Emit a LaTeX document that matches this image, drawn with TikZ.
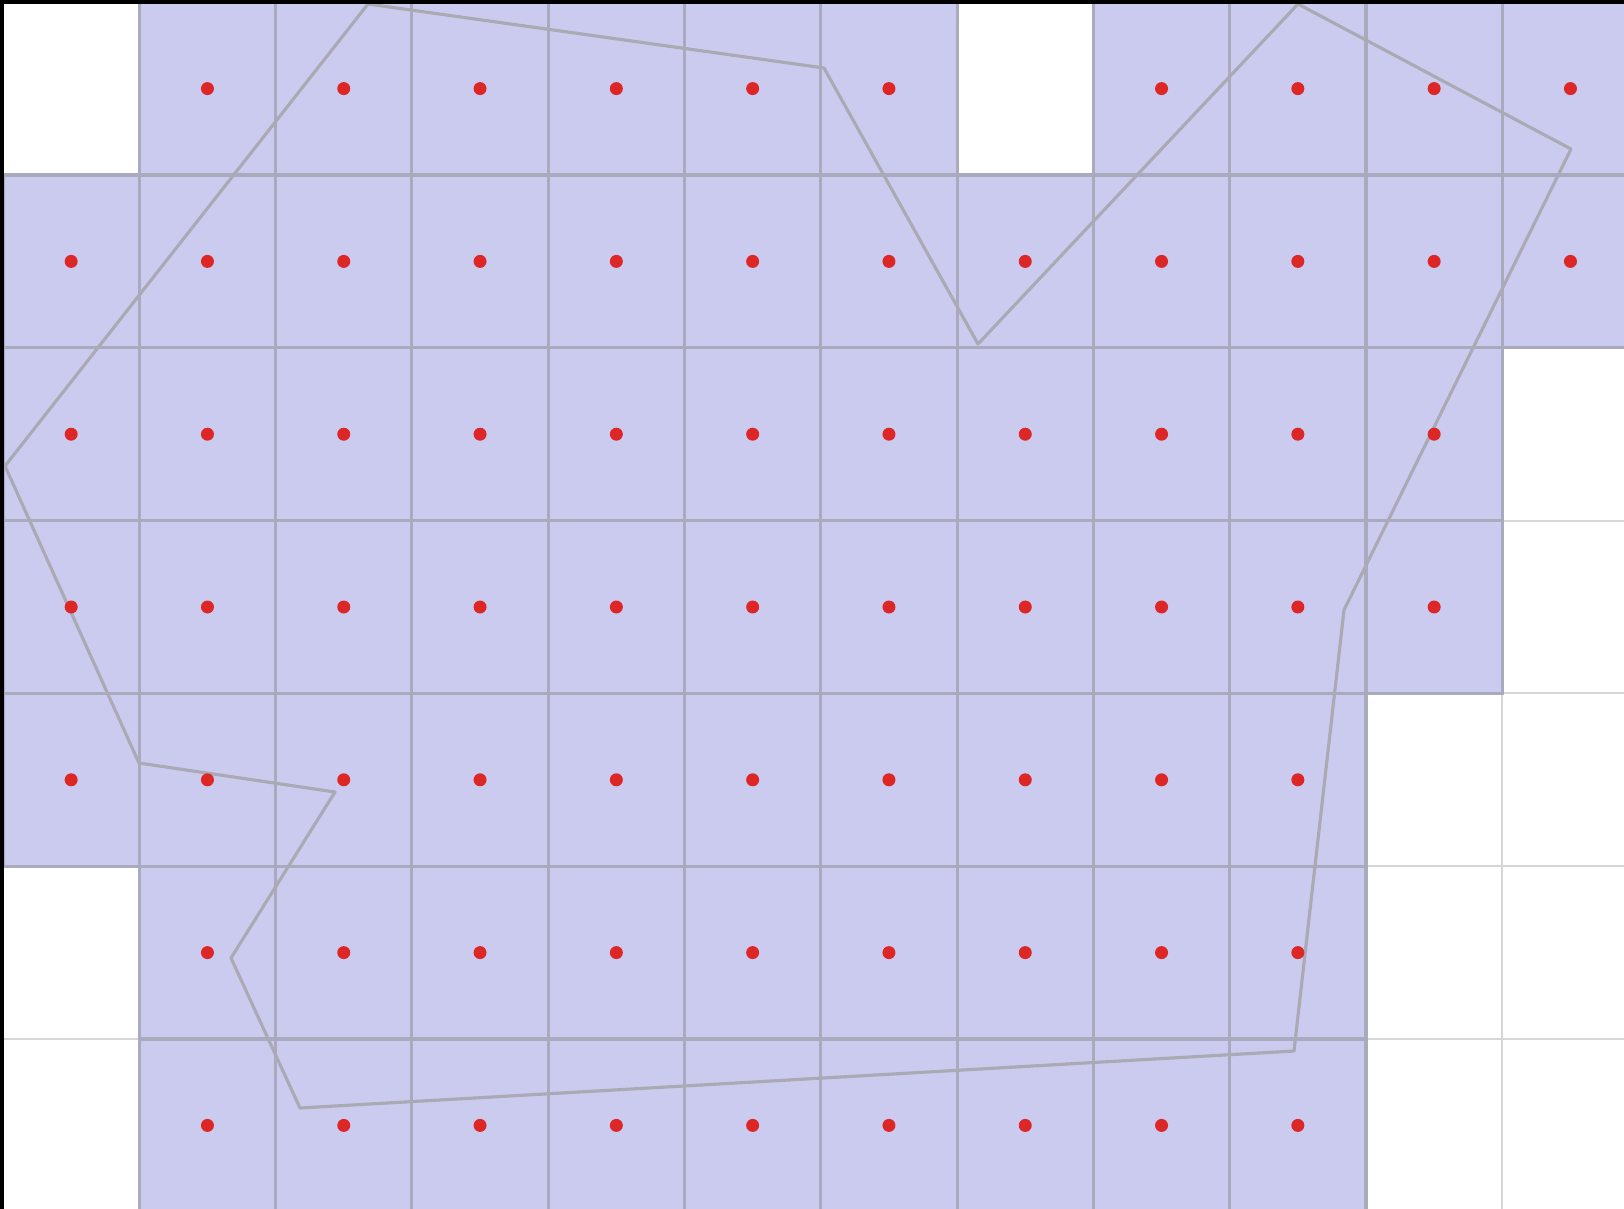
\documentclass[tikz,border=0pt]{standalone}
\usepackage{tikz}

\definecolor{cellfill}{RGB}{203,203,240}
\definecolor{cellline}{RGB}{170,170,190}
\definecolor{gridlight}{RGB}{214,214,214}
\definecolor{polyline}{RGB}{170,170,180}
\definecolor{dotred}{RGB}{221,38,38}

\begin{document}
\begin{tikzpicture}[
    x=0.01cm, y=-0.01cm,
    dot/.style={circle, fill=dotred, inner sep=0pt, minimum size=0.13cm},
    cell/.style={fill=cellfill, draw=cellline, line width=0.9pt},
    faint/.style={draw=gridlight, line width=0.6pt},
    outline/.style={draw=polyline, line width=0.9pt, line join=round},
    frame/.style={draw=black, line width=0.035cm}
]
    % 画布 1624 x 1209
    \useasboundingbox (0,0) rectangle (1624,1209);
    \clip (0,0) rectangle (1624,1209);
    \fill[white] (0,0) rectangle (1624,1209);
    \def\cw{136.3}
    \def\ch{172.8}
    % 每行被覆盖的格子
    \def\cellrows{0/{1,2,3,4,5,6,8,9,10,11}, 1/{0,...,11}, 2/{0,...,10},
        3/{0,...,10}, 4/{0,...,9}, 5/{1,...,9}, 6/{1,...,9}}

    % 浅色网格
    \foreach \c in {1,...,11}
        \draw[faint] (3+\c*\cw, 0) -- (3+\c*\cw, 1209);
    \foreach \r in {1,...,6}
        \draw[faint] (0, 2.2+\r*\ch) -- (1624, 2.2+\r*\ch);

    % 填充格子
    \foreach \r/\cols in \cellrows
        \foreach \c in \cols
            \draw[cell] (3+\c*\cw, 2.2+\r*\ch) rectangle ++(\cw, \ch);

    % 多边形顶点
    \coordinate (p1) at (368, 4);
    \coordinate (p2) at (824, 68);
    \coordinate (p3) at (978, 344);
    \coordinate (p4) at (1298, 4);
    \coordinate (p5) at (1571, 149);
    \coordinate (p6) at (1344, 610);
    \coordinate (p7) at (1294, 1051);
    \coordinate (p8) at (300, 1108);
    \coordinate (p9) at (231, 958);
    \coordinate (p10) at (335, 792);
    \coordinate (p11) at (139, 763);
    \coordinate (p12) at (5, 466);

    % 多边形
    \draw[outline] (p1) -- (p2) -- (p3) -- (p4) -- (p5) -- (p6) -- (p7)
        -- (p8) -- (p9) -- (p10) -- (p11) -- (p12) -- cycle;

    % 格子中心的红点
    \foreach \r/\cols in \cellrows
        \foreach \c in \cols
            \node[dot] (d\r-\c) at (3+\c*\cw+\cw/2, 2.2+\r*\ch+\ch/2) {};

    % 上边与左边的黑框
    \draw[frame] (1624, 1.8) -- (2.2, 1.8) -- (2.2, 1209);
\end{tikzpicture}
\end{document}
